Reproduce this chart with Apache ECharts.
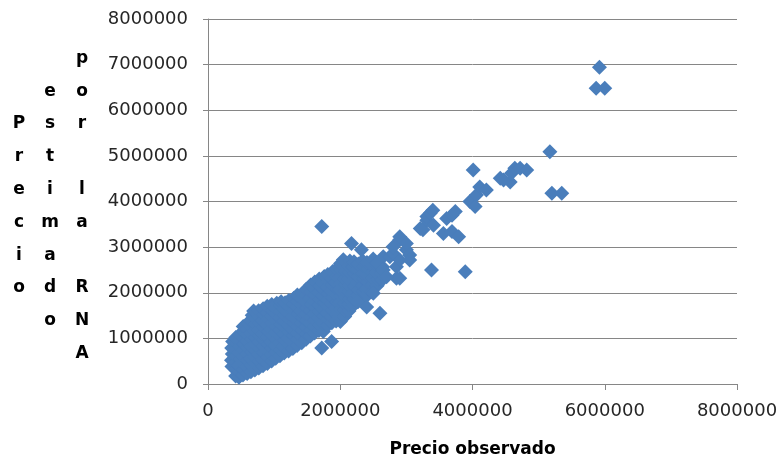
<!DOCTYPE html>
<html>
<head>
<meta charset="utf-8">
<title>Precio estimado por la RNA vs Precio observado</title>
<script src="https://cdn.jsdelivr.net/npm/echarts@6/dist/echarts.min.js"></script>
<style>
  html, body { margin: 0; padding: 0; background: #ffffff; }
  #chart { width: 778px; height: 460px; }
</style>
</head>
<body>
<div id="chart"></div>
<script>
// Axis ticks (both axes share the same price scale)
const xTicks = [0, 2000000, 4000000, 6000000, 8000000];
const yTicks = [0, 1000000, 2000000, 3000000, 4000000, 5000000, 6000000, 7000000, 8000000];

// Axis titles
const xTitle = 'Precio observado';
const yTitleColumns = ['Precio', 'estimado', 'por la RNA'];

// Observed price vs price estimated by the network: dense low/mid range
const densePairs = [
  [362000,385000],[355000,520000],[368000,655000],[358000,790000],[372000,930000],
  [418000,175000],[425000,330000],[410000,470000],[428000,615000],[415000,760000],[432000,895000],[420000,1020000],
  [468000,150000],[475000,262000],[462000,405000],[480000,548000],[470000,690000],[485000,828000],[466000,965000],[478000,1085000],
  [528000,195000],[536000,318000],[522000,462000],[540000,605000],[530000,742000],[545000,878000],[526000,1010000],[538000,1148000],[532000,1262000],
  [592000,232000],[585000,378000],[598000,515000],[588000,662000],[602000,798000],[584000,942000],[596000,1078000],[590000,1205000],[604000,1340000],
  [648000,268000],[655000,412000],[642000,558000],[660000,702000],[650000,838000],[664000,985000],[646000,1112000],[658000,1252000],[652000,1385000],[668000,1505000],
  [708000,305000],[716000,448000],[702000,598000],[720000,738000],[710000,882000],[724000,1018000],[704000,1162000],[718000,1298000],[712000,1442000],[690000,1600000],
  [768000,352000],[776000,498000],[762000,640000],[780000,782000],[770000,918000],[784000,1062000],[764000,1198000],[778000,1338000],[772000,1472000],[766000,1605000],
  [832000,398000],[826000,545000],[840000,688000],[828000,832000],[844000,968000],[824000,1112000],[838000,1248000],[830000,1392000],[846000,1522000],[834000,1648000],
  [898000,452000],[906000,592000],[892000,732000],[910000,872000],[900000,1012000],[914000,1148000],[894000,1292000],[908000,1418000],[902000,1562000],[896000,1702000],
  [962000,505000],[956000,645000],[970000,782000],[958000,922000],[974000,1058000],[954000,1202000],[968000,1338000],[960000,1475000],[976000,1612000],[964000,1742000],
  [1024000,562000],[1030000,698000],[1016000,842000],[1034000,978000],[1022000,1122000],[1038000,1258000],[1018000,1392000],[1032000,1528000],[1026000,1662000],[1040000,1768000],
  [1088000,618000],[1096000,762000],[1082000,902000],[1100000,1038000],[1090000,1182000],[1104000,1318000],[1084000,1452000],[1098000,1588000],[1092000,1722000],[1106000,1802000],
  [1152000,678000],[1146000,822000],[1160000,958000],[1148000,1102000],[1164000,1238000],[1144000,1382000],[1158000,1512000],[1150000,1648000],[1166000,1782000],
  [1218000,722000],[1226000,862000],[1212000,1002000],[1230000,1138000],[1220000,1282000],[1234000,1412000],[1214000,1552000],[1228000,1688000],[1222000,1832000],
  [1284000,778000],[1278000,918000],[1292000,1062000],[1280000,1198000],[1296000,1342000],[1276000,1478000],[1290000,1612000],[1282000,1752000],[1298000,1878000],
  [1348000,842000],[1356000,982000],[1342000,1118000],[1360000,1262000],[1350000,1398000],[1364000,1538000],[1344000,1682000],[1358000,1812000],[1352000,1948000],
  [1418000,902000],[1412000,1042000],[1426000,1178000],[1414000,1322000],[1430000,1458000],[1410000,1602000],[1424000,1732000],[1416000,1872000],[1432000,1982000],
  [1484000,982000],[1490000,1112000],[1476000,1252000],[1494000,1388000],[1482000,1532000],[1498000,1668000],[1478000,1802000],[1492000,1942000],[1486000,2078000],
  [1548000,1052000],[1556000,1188000],[1542000,1332000],[1560000,1468000],[1550000,1612000],[1564000,1742000],[1544000,1882000],[1558000,2018000],[1552000,2168000],
  [1612000,1118000],[1606000,1262000],[1620000,1398000],[1608000,1542000],[1624000,1678000],[1604000,1812000],[1618000,1952000],[1610000,2088000],[1614000,2238000],
  [1678000,1172000],[1686000,1308000],[1672000,1452000],[1690000,1588000],[1680000,1732000],[1694000,1868000],[1674000,2012000],[1688000,2148000],[1682000,2302000],
  [1744000,1152000],[1738000,1332000],[1752000,1498000],[1740000,1652000],[1756000,1788000],[1736000,1932000],[1750000,2068000],[1742000,2212000],[1758000,2358000],
  [1808000,1282000],[1816000,1418000],[1802000,1562000],[1820000,1698000],[1810000,1842000],[1824000,1978000],[1804000,2122000],[1818000,2258000],[1812000,2398000],
  [1872000,1342000],[1866000,1482000],[1880000,1618000],[1868000,1762000],[1884000,1898000],[1864000,2042000],[1878000,2178000],[1870000,2318000],[1886000,2468000],
  [1938000,1382000],[1946000,1522000],[1932000,1662000],[1950000,1798000],[1940000,1942000],[1954000,2078000],[1934000,2222000],[1948000,2358000],[1942000,2518000],
  [2002000,1372000],[1996000,1502000],[2010000,1648000],[1998000,1792000],[2014000,1928000],[1994000,2072000],[2008000,2208000],[2000000,2352000],[2016000,2498000],[2004000,2642000],
  [2068000,1482000],[2076000,1622000],[2062000,1758000],[2080000,1902000],[2070000,2038000],[2084000,2182000],[2064000,2318000],[2078000,2462000],[2072000,2598000],[2046000,2722000],
  [2132000,1602000],[2126000,1742000],[2140000,1878000],[2128000,2022000],[2144000,2158000],[2124000,2302000],[2138000,2438000],[2130000,2582000],[2146000,2698000],
  [2198000,1722000],[2206000,1858000],[2192000,2002000],[2210000,2138000],[2200000,2282000],[2214000,2418000],[2194000,2562000],[2208000,2682000],
  [2268000,1802000],[2262000,1942000],[2276000,2078000],[2264000,2222000],[2280000,2358000],[2260000,2502000],[2274000,2632000],
  [2342000,1882000],[2350000,2022000],[2336000,2158000],[2354000,2302000],[2344000,2438000],[2358000,2578000],[2338000,2702000],
  [2412000,1952000],[2406000,2098000],[2420000,2238000],[2408000,2382000],[2424000,2518000],[2404000,2662000],
  [2482000,2018000],[2490000,2178000],[2476000,2322000],[2494000,2458000],[2484000,2602000],[2498000,2738000],
  [2558000,2152000],[2566000,2298000],[2552000,2442000],[2570000,2578000],[2548000,2652000],
  [2632000,2282000],[2626000,2422000],[2640000,2562000]
];

// Higher-priced and outlying observations
const sparsePairs = [
  [1720000,3450000],[2170000,3080000],[2320000,2940000],[1720000,790000],[1870000,930000],
  [2250000,1800000],[2600000,1550000],[2500000,1990000],[2400000,1690000],
  [2550000,2650000],[2650000,2790000],[2650000,2500000],[2750000,2790000],[2800000,2860000],
  [2800000,3010000],[2850000,2570000],[2900000,3160000],[2900000,3230000],[2900000,2720000],
  [3000000,2940000],[3000000,3080000],[3050000,2830000],[3050000,2720000],[2850000,2320000],
  [2900000,2320000],[2700000,2350000],
  [3210000,3410000],[3250000,3380000],[3310000,3590000],[3310000,3670000],[3360000,3740000],
  [3400000,3810000],[3410000,3480000],[3560000,3300000],[3610000,3630000],[3690000,3700000],
  [3690000,3340000],[3740000,3780000],[3790000,3230000],[3380000,2500000],[3890000,2460000],
  [3960000,4000000],[4040000,3890000],[4060000,4140000],[4110000,4320000],[4210000,4250000],
  [4010000,4690000],[4420000,4510000],[4470000,4470000],[4570000,4430000],[4590000,4620000],
  [4640000,4730000],[4720000,4730000],[4820000,4690000],
  [5170000,5090000],[5200000,4180000],[5350000,4180000],
  [5920000,6940000],[5870000,6480000],[6000000,6480000]
];

const chart = echarts.init(document.getElementById('chart'), null, { renderer: 'canvas' });

const axisGrey = '#868686';
const labelFont = { fontFamily: 'DejaVu Sans', fontSize: 18, color: '#262626' };
// Plain integers, no thousands separators
const plainNumber = v => String(Math.round(v));

// Stacked-letter vertical title, one column per word group
const colX = [19, 50, 82];
const titleGraphics = yTitleColumns.map((txt, i) => ({
  type: 'text',
  x: colX[i],
  y: 206,
  style: {
    text: txt.split('').join('\n'),
    fontFamily: 'DejaVu Sans',
    fontWeight: 'bold',
    fontSize: 17,
    lineHeight: 32.8,
    fill: '#000000',
    align: 'center',
    verticalAlign: 'middle'
  }
}));

chart.setOption({
  animation: false,
  backgroundColor: '#ffffff',
  grid: { left: 208, right: 41, top: 19, bottom: 76, containLabel: false, outerBoundsMode: 'none' },
  xAxis: {
    type: 'value',
    min: xTicks[0],
    max: xTicks[xTicks.length - 1],
    interval: xTicks[1] - xTicks[0],
    axisLine: { show: true, onZero: false, lineStyle: { color: axisGrey, width: 1 } },
    axisTick: { show: true, inside: false, length: 6, lineStyle: { color: axisGrey } },
    splitLine: { show: false },
    axisLabel: Object.assign({ margin: 18, showMinLabel: true, showMaxLabel: true, hideOverlap: false, formatter: plainNumber }, labelFont),
    name: xTitle,
    nameLocation: 'middle',
    nameGap: 57,
    nameTextStyle: { fontFamily: 'DejaVu Sans', fontWeight: 'bold', fontSize: 17, color: '#000000' }
  },
  yAxis: {
    type: 'value',
    min: yTicks[0],
    max: yTicks[yTicks.length - 1],
    interval: yTicks[1] - yTicks[0],
    axisLine: { show: true, onZero: false, lineStyle: { color: axisGrey, width: 1 } },
    axisTick: { show: true, inside: false, length: 5, lineStyle: { color: axisGrey } },
    splitLine: { show: true, lineStyle: { color: axisGrey, width: 1 } },
    axisLabel: Object.assign({ margin: 20, showMinLabel: true, showMaxLabel: true, hideOverlap: false, formatter: plainNumber }, labelFont)
  },
  graphic: titleGraphics,
  series: [{
    type: 'scatter',
    data: densePairs.concat(sparsePairs),
    symbol: 'diamond',
    symbolSize: 15,
    itemStyle: { color: '#4A7EBB', opacity: 1 },
    emphasis: { disabled: true },
    silent: true
  }]
});
</script>
</body>
</html>
